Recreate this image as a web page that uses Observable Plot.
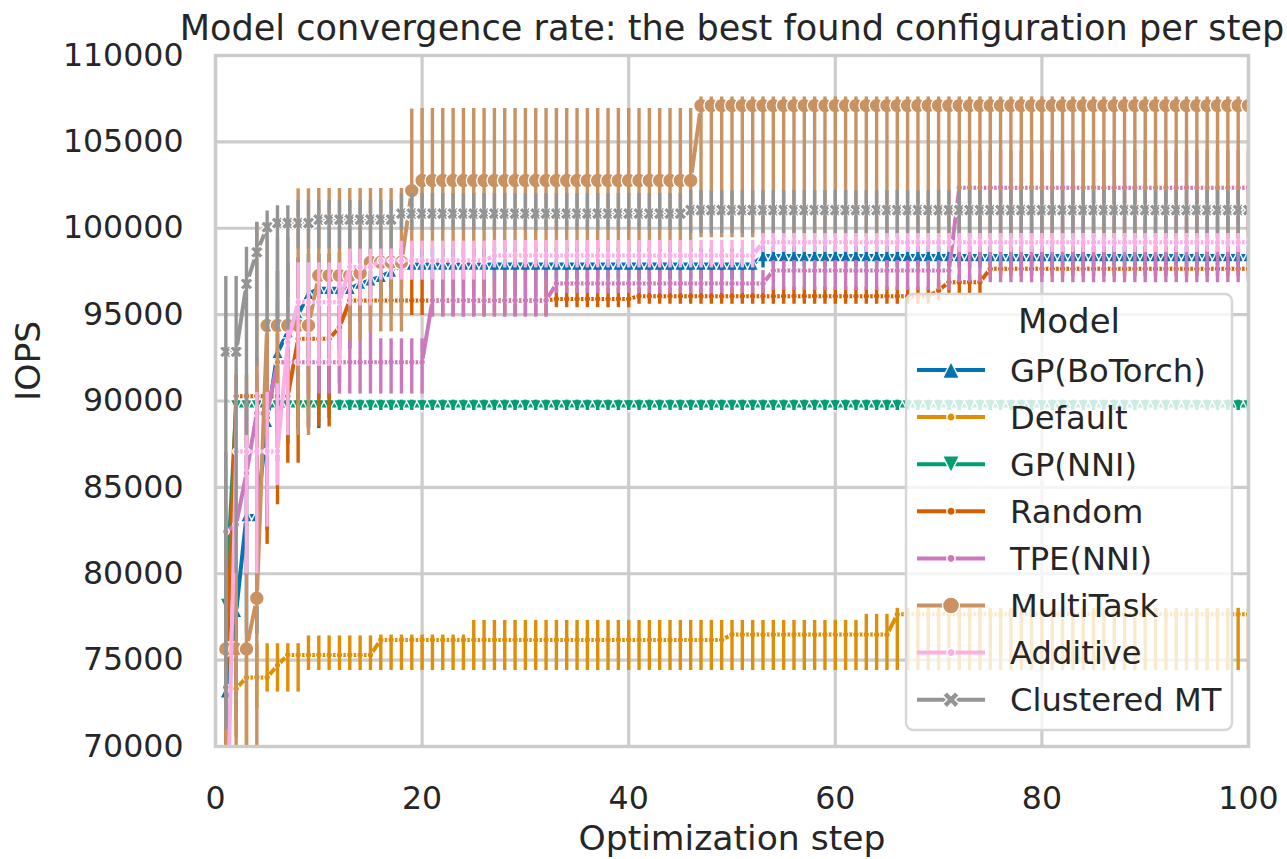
<!DOCTYPE html>
<html>
<head>
<meta charset="utf-8">
<script src="https://cdn.jsdelivr.net/npm/d3@7"></script>
<script src="https://cdn.jsdelivr.net/npm/@observablehq/plot@0.6"></script>
<style>
  body { margin: 0; background: #ffffff; }
  #chart svg { display: block; }
</style>
</head>
<body>
<div id="chart"></div>
<script>
// ---------- data ----------
const models = ["GP(BoTorch)", "Default", "GP(NNI)", "Random", "TPE(NNI)", "MultiTask", "Additive", "Clustered MT"];
const colors = ["#0173b2", "#de8f05", "#029e73", "#d55e00", "#cc78bc", "#ca9161", "#fbafe4", "#949494"];
const xTicks = [0, 20, 40, 60, 80, 100];
const yTicks = [70000, 75000, 80000, 85000, 90000, 95000, 100000, 105000, 110000];
const lastStep = 100;

// Runs of the best-so-far value: [first step of run, mean IOPS, CI low, CI high]
// (each run holds until the step before the next run starts)
const gpBoTorchRuns = [
  [1, 73150, 68500, 78500], [2, 77800, 71500, 84500], [3, 83350, 76500, 89500],
  [5, 88800, 82500, 94000], [6, 92800, 86500, 97500], [7, 94000, 87500, 98000],
  [8, 95000, 88400, 98300], [9, 96200, 88400, 98500], [10, 96500, 88400, 98500],
  [11, 96500, 89000, 98500], [12, 96500, 93000, 98600], [14, 96800, 94500, 98800],
  [15, 97000, 95500, 98800], [16, 97200, 96000, 98900], [17, 97500, 96500, 99000],
  [18, 97900, 97000, 98800], [53, 98400, 97700, 99100]
];
const defaultRuns = [
  [1, 73400, 70500, 76500], [2, 73350, 70500, 76000], [3, 74000, 68000, 75950],
  [4, 74000, 72200, 75950], [5, 74000, 73150, 75950], [6, 74700, 73150, 75950],
  [7, 75300, 73150, 75950], [9, 75300, 74400, 76400], [16, 76170, 74400, 76450],
  [25, 76170, 74400, 77300], [50, 76480, 74400, 77300], [63, 76480, 74400, 77650],
  [66, 77650, 74400, 78000]
];
const gpNniRuns = [
  [1, 78250, 74500, 82000], [2, 89740, 89000, 90400], [3, 89740, 89450, 90050]
];
const randomRuns = [
  [1, 73430, 69000, 78000], [2, 90280, 86000, 91500], [5, 90280, 81700, 92000],
  [6, 90280, 84000, 93000], [7, 90280, 86400, 94000], [8, 93600, 86400, 95500],
  [9, 93600, 88500, 96000], [12, 94270, 91000, 96500], [13, 95820, 94950, 97000],
  [33, 95910, 95400, 96600], [41, 96070, 95600, 96600], [70, 96400, 95800, 97000],
  [71, 96880, 96200, 97300], [75, 97650, 97200, 98000]
];
const tpeRuns = [
  [1, 82440, 76000, 87000], [2, 82850, 77000, 88000], [3, 85820, 80000, 90000],
  [4, 89290, 84000, 92500], [6, 92250, 88500, 95800], [7, 92250, 90400, 95800],
  [16, 92250, 90400, 93600], [21, 95820, 94850, 97550], [33, 96800, 96220, 97550],
  [54, 97550, 96400, 98130], [72, 102350, 96850, 104500]
];
const multiTaskRuns = [
  [1, 75650, 66000, 84000], [4, 78580, 70000, 100300], [5, 94370, 88000, 99480],
  [8, 94370, 88000, 102280], [10, 97260, 93500, 102300], [14, 97400, 93500, 102300],
  [15, 98030, 94000, 102300], [19, 102180, 98700, 106900], [20, 102760, 98700, 106930],
  [47, 107100, 99450, 107600]
];
const additiveRuns = [
  [1, 62000, 55000, 70000], [2, 87080, 80000, 90500], [5, 87080, 82700, 90500],
  [6, 87080, 85100, 91000], [7, 93400, 88000, 96000], [8, 95720, 92000, 98000],
  [13, 97750, 95500, 98800], [16, 98130, 97000, 99250], [27, 98420, 97700, 99300],
  [53, 99190, 98600, 99700]
];
const clusteredRuns = [
  [1, 92850, 71000, 97200], [2, 92850, 80000, 97200], [3, 96780, 88000, 98900],
  [4, 98610, 92000, 100350], [5, 100060, 94000, 101000], [6, 100300, 94100, 101300],
  [8, 100300, 98800, 101600], [10, 100500, 98800, 101600], [18, 100850, 99870, 102000],
  [46, 101050, 99700, 102180]
];
const seriesRuns = [gpBoTorchRuns, defaultRuns, gpNniRuns, randomRuns, tpeRuns, multiTaskRuns, additiveRuns, clusteredRuns];

// expand run-length rows into one row per optimization step
function expandRuns(runs) {
  const out = [];
  runs.forEach((run, i) => {
    const [start, mean, lo, hi] = run;
    const end = i + 1 < runs.length ? runs[i + 1][0] - 1 : lastStep;
    for (let s = start; s <= end; s++) out.push({step: s, mean, lo, hi});
  });
  return out;
}

// ---------- marker symbols (fixed pixel radius, size argument ignored) ----------
const triUp = (r) => ({draw(ctx) { ctx.moveTo(0, -r); ctx.lineTo(r, r); ctx.lineTo(-r, r); ctx.closePath(); }});
const triDown = (r) => ({draw(ctx) { ctx.moveTo(0, r); ctx.lineTo(r, -r); ctx.lineTo(-r, -r); ctx.closePath(); }});
const circ = (r) => ({draw(ctx) { ctx.moveTo(r, 0); ctx.arc(0, 0, r, 0, 2 * Math.PI); ctx.closePath(); }});
const xFilled = (r) => ({draw(ctx) {
  const w = r / 3;
  const pts = [[-w, -r], [w, -r], [w, -w], [r, -w], [r, w], [w, w], [w, r], [-w, r], [-w, w], [-r, w], [-r, -w], [-w, -w]];
  const c = Math.SQRT1_2;
  pts.forEach(([x, y], i) => {
    const X = (x - y) * c, Y = (x + y) * c;
    if (i === 0) ctx.moveTo(X, Y); else ctx.lineTo(X, Y);
  });
  ctx.closePath();
}});
const shapeMakers = [triUp, circ, triDown, circ, circ, circ, circ, xFilled];
const markerR = [6.0, 3.4, 6.0, 3.4, 3.4, 7.4, 3.4, 7.0];
const legendR = [8.5, 4.2, 8.5, 4.2, 4.2, 8.5, 4.2, 8.8];

// ---------- marks ----------
const marks = [
  Plot.gridX(xTicks, {stroke: "#cccccc", strokeOpacity: 1, strokeWidth: 3.2}),
  Plot.gridY(yTicks, {stroke: "#cccccc", strokeOpacity: 1, strokeWidth: 3.2})
];
seriesRuns.forEach((runs, i) => {
  const rows = expandRuns(runs);
  marks.push(
    Plot.line(rows, {x: "step", y: "mean", stroke: colors[i], strokeWidth: 4, clip: true}),
    Plot.dot(rows, {x: "step", y: "mean", symbol: shapeMakers[i](markerR[i]), r: 5, fill: colors[i], stroke: "white", strokeWidth: 1.4, clip: true}),
    Plot.ruleX(rows, {x: "step", y1: "lo", y2: "hi", stroke: colors[i], strokeWidth: 3.4, strokeLinecap: "butt", clip: true})
  );
});
marks.push(
  Plot.frame({stroke: "#cccccc", strokeWidth: 3.4}),
  Plot.axisX({ticks: xTicks, tickSize: 0, tickPadding: 40, label: null, tickFormat: d => String(d)}),
  Plot.axisY({ticks: yTicks, tickSize: 0, tickPadding: 32, label: null, tickFormat: d => String(d)}),
  Plot.text(["Model convergence rate: the best found configuration per step"], {text: d => d, frameAnchor: "top", lineAnchor: "middle", dy: -27, fontSize: 35.1, fill: "#262626"}),
  Plot.text(["Optimization step"], {text: d => d, frameAnchor: "bottom", lineAnchor: "middle", dy: 92, fontSize: 34.6, fill: "#262626"}),
  Plot.text(["IOPS"], {text: d => d, frameAnchor: "left", lineAnchor: "middle", rotate: -90, dx: -187, fontSize: 34.6, fill: "#262626"})
);

const chart = Plot.plot({
  width: 1287,
  height: 859,
  marginLeft: 215,
  marginRight: 39,
  marginTop: 55,
  marginBottom: 113,
  x: {domain: [0, 100]},
  y: {domain: [70000, 110000]},
  style: {fontFamily: "DejaVu Sans", fontSize: "31.6px", color: "#262626", background: "#ffffff", overflow: "visible"},
  marks
});

// ---------- legend ----------
const svg = d3.select(chart);
const lg = svg.append("g").attr("font-family", "DejaVu Sans").attr("fill", "#262626").attr("text-anchor", "start");
lg.append("rect").attr("x", 906).attr("y", 294).attr("width", 326).attr("height", 436)
  .attr("rx", 7).attr("fill", "white").attr("fill-opacity", 0.8)
  .attr("stroke", "#d6d6d6").attr("stroke-width", 2.4);
lg.append("text").attr("x", 1069).attr("y", 333).attr("text-anchor", "middle")
  .attr("font-size", "34px").text("Model");
models.forEach((m, i) => {
  const y = 370 + i * 47.1;
  lg.append("line").attr("x1", 917).attr("x2", 985).attr("y1", y).attr("y2", y)
    .attr("stroke", colors[i]).attr("stroke-width", 4);
  lg.append("path").attr("transform", `translate(951,${y})`)
    .attr("d", d3.symbol(shapeMakers[i](legendR[i]))())
    .attr("fill", colors[i]).attr("stroke", "white").attr("stroke-width", 1.4);
  lg.append("text").attr("x", 1010).attr("y", y).attr("dy", "0.36em")
    .attr("text-anchor", "start").attr("font-size", "32.2px").text(m);
});

document.getElementById("chart").appendChild(chart);
</script>
</body>
</html>
